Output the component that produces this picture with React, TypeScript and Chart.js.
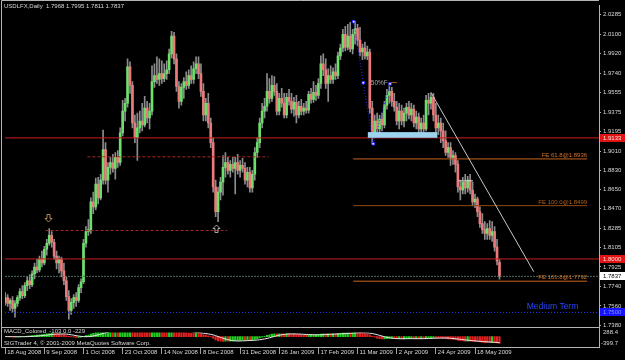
import { useEffect, useRef } from "react";
import { Chart, registerables } from "chart.js";
Chart.register(...registerables);

// ---- price data (daily OHLC, USDLFX) ----
const opens = [
  1.7593, 1.7638, 1.7583, 1.7611, 1.7537, 1.7583, 1.7638, 1.7694, 1.7657, 1.7750,
  1.7796, 1.7759, 1.7860, 1.7925, 1.7897, 1.7999, 1.7962, 1.8091, 1.8147, 1.8220,
  1.8156, 1.8027, 1.7962, 1.7999, 1.7888, 1.7796, 1.7648, 1.7519, 1.7593, 1.7638,
  1.7611, 1.7731, 1.7787, 1.8147, 1.8257, 1.8275, 1.8534, 1.8488, 1.8701, 1.8571,
  1.8737, 1.9023, 1.8737, 1.8857, 1.8903, 1.8848, 1.8950, 1.8903, 1.9180, 1.9383,
  1.9457, 1.9798, 1.9624, 1.9272, 1.9134, 1.9226, 1.9291, 1.9254, 1.9411, 1.9319,
  1.9383, 1.9660, 1.9716, 1.9679, 1.9734, 1.9688, 1.9734, 1.9771, 1.9919, 2.0085,
  1.9873, 1.9614, 1.9475, 1.9605, 1.9660, 1.9624, 1.9716, 1.9679, 1.9780, 1.9826,
  1.9734, 1.9568, 1.9347, 1.9457, 1.9272, 1.9088, 1.8673, 1.8442, 1.8626, 1.8719,
  1.8857, 1.8903, 1.8829, 1.8885, 1.8848, 1.8903, 1.8829, 1.8875, 1.8848, 1.8737,
  1.8811, 1.8664, 1.8793, 1.8996, 1.9088, 1.9272, 1.9383, 1.9429, 1.9568, 1.9503,
  1.9624, 1.9568, 1.9383, 1.9503, 1.9457, 1.9347, 1.9512, 1.9475, 1.9402, 1.9466,
  1.9347, 1.9429, 1.9383, 1.9411, 1.9392, 1.9540, 1.9494, 1.9559, 1.9531, 1.9642,
  1.9826, 1.9771, 1.9642, 1.9716, 1.9679, 1.9752, 1.9716, 1.9901, 1.9974, 2.0103,
  1.9983, 2.0085, 1.9965, 2.0103, 2.0158, 2.0048, 1.9937, 1.9974, 1.9901, 1.9937,
  1.9411, 1.9180, 1.9291, 1.9217, 1.9310, 1.9254, 1.9439, 1.9531, 1.9568, 1.9475,
  1.9420, 1.9291, 1.9383, 1.9291, 1.9365, 1.9420, 1.9347, 1.9402, 1.9272, 1.9328,
  1.9217, 1.9272, 1.9217, 1.9484, 1.9457, 1.9512, 1.9347, 1.9226, 1.9272, 1.9198,
  1.9106, 1.8996, 1.9042, 1.8950, 1.8968, 1.8885, 1.8673, 1.8645, 1.8719, 1.8664,
  1.8737, 1.8645, 1.8534, 1.8561, 1.8442, 1.8331, 1.8275, 1.8239, 1.8284, 1.8220,
  1.8257, 1.8110, 1.7968,
];
const highs = [
  1.7685, 1.7666, 1.7629, 1.7648, 1.7611, 1.7657, 1.7722, 1.7750, 1.7778, 1.7833,
  1.7851, 1.7888, 1.7962, 1.7999, 1.8027, 1.8073, 1.8119, 1.8183, 1.8284, 1.8257,
  1.8183, 1.8073, 1.8027, 1.8018, 1.7962, 1.7833, 1.7703, 1.7629, 1.7666, 1.7685,
  1.7759, 1.7814, 1.8183, 1.8303, 1.8368, 1.8571, 1.8626, 1.8756, 1.8765, 1.8793,
  1.9207, 1.9088, 1.8903, 1.8950, 1.8978, 1.8996, 1.9014, 1.9226, 1.9484, 1.9503,
  1.9873, 1.9845, 1.9660, 1.9347, 1.9365, 1.9383, 1.9457, 1.9521, 1.9475, 1.9457,
  1.9808, 1.9826, 1.9891, 1.9873, 1.9854, 1.9826, 1.9854, 1.9965, 2.0130, 2.0121,
  1.9919, 1.9660, 1.9642, 1.9697, 1.9752, 1.9771, 1.9808, 1.9845, 1.9891, 1.9891,
  1.9826, 1.9642, 1.9503, 1.9549, 1.9319, 1.9134, 1.8737, 1.8673, 1.8765, 1.8968,
  1.8996, 1.8950, 1.8921, 1.8950, 1.8950, 1.8978, 1.8921, 1.8941, 1.8903, 1.8857,
  1.8857, 1.8829, 1.9042, 1.9134, 1.9319, 1.9457, 1.9503, 1.9734, 1.9688, 1.9716,
  1.9706, 1.9642, 1.9549, 1.9596, 1.9549, 1.9549, 1.9587, 1.9549, 1.9512, 1.9531,
  1.9475, 1.9494, 1.9457, 1.9475, 1.9568, 1.9596, 1.9660, 1.9624, 1.9688, 1.9901,
  1.9919, 1.9873, 1.9780, 1.9808, 1.9789, 1.9826, 1.9937, 2.0011, 2.0149, 2.0177,
  2.0195, 2.0214, 2.0149, 2.0223, 2.0195, 2.0168, 2.0011, 2.0029, 1.9992, 1.9965,
  1.9475, 1.9347, 1.9365, 1.9347, 1.9365, 1.9475, 1.9587, 1.9639, 1.9605, 1.9549,
  1.9475, 1.9457, 1.9439, 1.9411, 1.9457, 1.9475, 1.9457, 1.9439, 1.9383, 1.9365,
  1.9319, 1.9347, 1.9531, 1.9549, 1.9558, 1.9549, 1.9457, 1.9347, 1.9319, 1.9272,
  1.9198, 1.9088, 1.9088, 1.9014, 1.8996, 1.8921, 1.8737, 1.8765, 1.8793, 1.8774,
  1.8793, 1.8719, 1.8608, 1.8580, 1.8488, 1.8424, 1.8349, 1.8331, 1.8358, 1.8349,
  1.8303, 1.8183, 1.7995,
];
const lows = [
  1.7565, 1.7556, 1.7519, 1.7501, 1.7454, 1.7556, 1.7611, 1.7629, 1.7638, 1.7703,
  1.7722, 1.7741, 1.7814, 1.7870, 1.7879, 1.7925, 1.7943, 1.8036, 1.8128, 1.8110,
  1.7999, 1.7906, 1.7870, 1.7833, 1.7759, 1.7611, 1.7436, 1.7482, 1.7537, 1.7556,
  1.7593, 1.7685, 1.7768, 1.8110, 1.8220, 1.8239, 1.8424, 1.8460, 1.8516, 1.8552,
  1.8701, 1.8701, 1.8626, 1.8793, 1.8811, 1.8746, 1.8857, 1.8875, 1.9152, 1.9291,
  1.9420, 1.9549, 1.9226, 1.9088, 1.8922, 1.9180, 1.9198, 1.9235, 1.9272, 1.9217,
  1.9347, 1.9605, 1.9642, 1.9624, 1.9642, 1.9660, 1.9679, 1.9734, 1.9882, 1.9826,
  1.9568, 1.9411, 1.9439, 1.9503, 1.9587, 1.9596, 1.9642, 1.9642, 1.9734, 1.9688,
  1.9521, 1.9291, 1.9291, 1.9226, 1.9042, 1.8626, 1.8396, 1.8349, 1.8552, 1.8598,
  1.8765, 1.8793, 1.8765, 1.8811, 1.8608, 1.8793, 1.8765, 1.8811, 1.8701, 1.8673,
  1.8626, 1.8626, 1.8737, 1.8950, 1.9042, 1.9226, 1.9319, 1.9383, 1.9457, 1.9475,
  1.9531, 1.9347, 1.9347, 1.9420, 1.9319, 1.9319, 1.9439, 1.9365, 1.9337, 1.9272,
  1.9319, 1.9347, 1.9347, 1.9365, 1.9365, 1.9457, 1.9466, 1.9484, 1.9503, 1.9596,
  1.9716, 1.9596, 1.9475, 1.9642, 1.9642, 1.9679, 1.9688, 1.9864, 1.9937, 1.9946,
  1.9956, 1.9937, 1.9919, 2.0011, 1.9993, 1.9901, 1.9864, 1.9873, 1.9864, 1.9365,
  1.9078, 1.9134, 1.9162, 1.9162, 1.9198, 1.9226, 1.9402, 1.9457, 1.9429, 1.9383,
  1.9254, 1.9217, 1.9254, 1.9235, 1.9291, 1.9310, 1.9291, 1.9235, 1.9217, 1.9180,
  1.9152, 1.9162, 1.9198, 1.9347, 1.9402, 1.9291, 1.9180, 1.9162, 1.9088, 1.9042,
  1.8968, 1.8950, 1.8875, 1.8885, 1.8811, 1.8626, 1.8552, 1.8608, 1.8608, 1.8626,
  1.8608, 1.8497, 1.8479, 1.8396, 1.8294, 1.8239, 1.8183, 1.8183, 1.8183, 1.8165,
  1.8073, 1.7943, 1.7811,
];
const closes = [
  1.7638, 1.7583, 1.7611, 1.7537, 1.7583, 1.7638, 1.7694, 1.7657, 1.7750, 1.7796,
  1.7759, 1.7860, 1.7925, 1.7897, 1.7999, 1.7962, 1.8091, 1.8147, 1.8220, 1.8156,
  1.8027, 1.7962, 1.7999, 1.7888, 1.7796, 1.7648, 1.7519, 1.7593, 1.7638, 1.7611,
  1.7731, 1.7787, 1.8147, 1.8257, 1.8275, 1.8534, 1.8488, 1.8701, 1.8571, 1.8737,
  1.9023, 1.8737, 1.8857, 1.8903, 1.8848, 1.8950, 1.8903, 1.9180, 1.9383, 1.9457,
  1.9798, 1.9624, 1.9272, 1.9134, 1.9226, 1.9291, 1.9254, 1.9411, 1.9319, 1.9383,
  1.9660, 1.9716, 1.9679, 1.9734, 1.9688, 1.9734, 1.9771, 1.9919, 2.0085, 1.9873,
  1.9614, 1.9475, 1.9605, 1.9660, 1.9624, 1.9716, 1.9679, 1.9780, 1.9826, 1.9734,
  1.9568, 1.9347, 1.9457, 1.9272, 1.9088, 1.8673, 1.8442, 1.8626, 1.8719, 1.8857,
  1.8903, 1.8829, 1.8885, 1.8848, 1.8903, 1.8829, 1.8875, 1.8848, 1.8737, 1.8811,
  1.8664, 1.8793, 1.8996, 1.9088, 1.9272, 1.9383, 1.9429, 1.9568, 1.9503, 1.9624,
  1.9568, 1.9383, 1.9503, 1.9457, 1.9347, 1.9512, 1.9475, 1.9402, 1.9466, 1.9347,
  1.9429, 1.9383, 1.9411, 1.9392, 1.9540, 1.9494, 1.9559, 1.9531, 1.9642, 1.9826,
  1.9771, 1.9642, 1.9716, 1.9679, 1.9752, 1.9716, 1.9901, 1.9974, 2.0103, 1.9983,
  2.0085, 1.9965, 2.0103, 2.0158, 2.0048, 1.9937, 1.9974, 1.9901, 1.9937, 1.9411,
  1.9180, 1.9291, 1.9217, 1.9310, 1.9254, 1.9439, 1.9531, 1.9568, 1.9475, 1.9420,
  1.9291, 1.9383, 1.9291, 1.9365, 1.9420, 1.9347, 1.9402, 1.9272, 1.9328, 1.9217,
  1.9272, 1.9217, 1.9484, 1.9457, 1.9512, 1.9347, 1.9226, 1.9272, 1.9198, 1.9106,
  1.8996, 1.9042, 1.8950, 1.8968, 1.8885, 1.8673, 1.8645, 1.8719, 1.8664, 1.8737,
  1.8645, 1.8534, 1.8561, 1.8442, 1.8331, 1.8275, 1.8239, 1.8284, 1.8220, 1.8257,
  1.8110, 1.7980, 1.7837,
];

// ---- axis labels ----
const dateTickIndex = [0, 16, 32, 48, 64, 80, 96, 112, 128, 144, 160, 176, 192];
const dateLabels = [
  "18 Aug 2008", "9 Sep 2008", "1 Oct 2008", "23 Oct 2008", "14 Nov 2008", "8 Dec 2008",
  "31 Dec 2008", "26 Jan 2009", "17 Feb 2009", "11 Mar 2009", "2 Apr 2009", "24 Apr 2009", "18 May 2009",
];
const priceTicks = [
  2.0285, 2.01, 1.992, 1.974, 1.9555, 1.9375, 1.9195, 1.901, 1.883, 1.865, 1.847,
  1.8285, 1.8105, 1.7925, 1.774, 1.756, 1.738,
];
const titleText = "USDLFX,Daily  1.7968 1.7995 1.7811 1.7837";
const macdTitle = "MACD_Colored  -103 0.0 -229";
const copyrightText = "SIGTrader 4, \u00a9 2001-2009 MetaQuotes Software Corp.";
const macdAxisLabels = ["288.4", "-399.7"];
const macdAxisValues = [288.4, -399.7];

// ---- drawn objects ----
const redLevels = [1.9133, 1.8];
const currentPrice = 1.7837;
const mediumTermLevel = 1.75;
const mediumTermText = "Medium Term";
const mediumTermIndex = 234.2;
const feLabels = ["FE 61.8@1.8936", "FE 100.0@1.8499", "FE 161.8@1.7792"];
const fePrices = [1.8936, 1.8499, 1.7792];
const feColors = ["#c8641e", "#8c4a14", "#c8641e"];
const feRange = [142.2, 237.8];
const fibIndex = [142.45, 146.34, 150.39, 157.28];
const fibPrices = [2.022, 1.9649, 1.9078, 1.9639];
const trendIndex = [174.2, 216.0];
const trendPrices = [1.9549, 1.7881];
const dashedPrices = [1.8956, 1.8266];
const dashedFrom = [33.6, 16.5];
const dashedTo = [107.6, 90.7];
const bandIndex = [148.2, 176.6];
const bandPrices = [1.9187, 1.9134];
const bracketIndex = [185.1, 191.2];
const bracketPrice = 1.8731;
const fiftyLineIndex = [157.3, 160.1];
const fiftyPrice = 1.9651;
const fiftyLabelIndex = 149.4;
const arrowDownAt = [17.4, 1.8386];
const arrowUpAt = [86.2, 1.8294];

const X_MIN = -0.081;
const X_MAX = 242.67;
const Y_MIN = 1.7176;
const Y_MAX = 2.0371;
const M_MIN = -441.4;
const M_MAX = 13988;

const FONT = "'Liberation Sans', Arial, sans-serif";

function ema(vals: number[], n: number) {
  const k = 2 / (n + 1);
  const out: number[] = [];
  let e = vals[0];
  vals.forEach((v, i) => {
    e = i === 0 ? v : v * k + e * (1 - k);
    out.push(e);
  });
  return out;
}

export default function App() {
  const ref = useRef<HTMLCanvasElement>(null);

  useEffect(() => {
    const canvas = ref.current!;
    const idx = closes.map((_, i) => i);

    const e12 = ema(closes, 12);
    const e26 = ema(closes, 26);
    const macd = closes.map((_, i) => (e12[i] - e26[i]) * 10000);
    const signal = macd.map((_, i) => {
      const s = Math.max(0, i - 8);
      const w = macd.slice(s, i + 1);
      return w.reduce((a, b) => a + b, 0) / w.length;
    });

    const seg = (x0: number, x1: number, p: number) => [
      { x: x0, y: p },
      { x: x1, y: p },
    ];
    const lineDs = (data: any[], color: string, order: number, extra: any = {}) => ({
      type: "line" as const,
      data,
      borderColor: color,
      borderWidth: 1,
      pointRadius: 0,
      fill: false,
      tension: 0,
      order,
      ...extra,
    });

    const datasets: any[] = [
      {
        type: "bar",
        data: idx.map((i) => ({ x: i, y: [Math.min(opens[i], closes[i]), Math.max(opens[i], closes[i])] })),
        backgroundColor: idx.map((i) => (closes[i] >= opens[i] ? "#6be06b" : "#ec7a7a")),
        barThickness: 2,
        minBarLength: 1,
        grouped: false,
        order: 8,
      },
      {
        type: "bar",
        data: idx.map((i) => ({ x: i, y: [lows[i], highs[i]] })),
        backgroundColor: "#8c8c8c",
        barThickness: 1,
        grouped: false,
        order: 9,
      },
      {
        type: "bar",
        yAxisID: "y2",
        data: idx.map((i) => ({ x: i, y: [0, macd[i]] })),
        backgroundColor: idx.map((i) => (i > 0 && macd[i] >= macd[i - 1] ? "#22d022" : "#e02222")),
        barThickness: 1.5,
        grouped: false,
        order: 7,
        clip: { left: 0, right: 0, top: -327, bottom: 0 },
      },
      lineDs(idx.map((i) => ({ x: i, y: signal[i] })), "#e8e8e8", 6, {
        yAxisID: "y2",
        clip: { left: 0, right: 0, top: -327, bottom: 0 },
      }),
      ...redLevels.map((p) => lineDs(seg(X_MIN, X_MAX, p), "#c81e1e", 3)),
      lineDs(seg(X_MIN, X_MAX, currentPrice), "#4e6e5e", 3, { borderDash: [2, 1] }),
      lineDs(seg(X_MIN, X_MAX, mediumTermLevel), "#2a3cff", 3, { borderDash: [1, 2] }),
      ...fePrices.map((p, k) => lineDs(seg(feRange[0], feRange[1], p), feColors[k], 3)),
      ...dashedPrices.map((p, k) =>
        lineDs(seg(dashedFrom[k], dashedTo[k], p), "#a8281e", 3, { borderDash: [3, 2] })
      ),
      lineDs(
        trendIndex.map((x, k) => ({ x, y: trendPrices[k] })),
        "#c8c8c8",
        2
      ),
      lineDs(seg(bracketIndex[0], bracketIndex[1], bracketPrice), "#d0d0d0", 2),
      lineDs(seg(fiftyLineIndex[0], fiftyLineIndex[1], fiftyPrice), "#b0501e", 2),
      lineDs(
        fibIndex.map((x, k) => ({ x, y: fibPrices[k] })),
        "#2a2aff",
        1,
        {
          borderDash: [1, 2],
          pointRadius: 1.8,
          pointStyle: "rect",
          pointBackgroundColor: "#ffffff",
          pointBorderColor: "#2a2aff",
          pointBorderWidth: 1,
        }
      ),
    ];

    const overlay = {
      id: "overlay",
      beforeDraw(chart: any) {
        const { ctx, width, height } = chart;
        ctx.save();
        ctx.fillStyle = "#000000";
        ctx.fillRect(0, 0, width, height);
        ctx.restore();
      },
      afterDatasetsDraw(chart: any) {
        const { ctx } = chart;
        const xs = chart.scales.x;
        const ys = chart.scales.y;
        ctx.save();
        // light blue band
        const bx0 = xs.getPixelForValue(bandIndex[0]);
        const bx1 = xs.getPixelForValue(bandIndex[1]);
        const by0 = ys.getPixelForValue(bandPrices[0]);
        const by1 = ys.getPixelForValue(bandPrices[1]);
        ctx.fillStyle = "#9cd4ee";
        ctx.fillRect(bx0, by0, bx1 - bx0, by1 - by0);

        // arrows
        const arrow = (i: number, p: number, dir: number, color: string) => {
          const x = Math.round(xs.getPixelForValue(i)) + 0.5;
          const y = Math.round(ys.getPixelForValue(p)) + 0.5;
          ctx.strokeStyle = color;
          ctx.lineWidth = 1;
          ctx.beginPath();
          ctx.moveTo(x - 1.5, y - 4 * dir);
          ctx.lineTo(x + 1.5, y - 4 * dir);
          ctx.lineTo(x + 1.5, y);
          ctx.lineTo(x + 3.5, y);
          ctx.lineTo(x, y + 3.5 * dir);
          ctx.lineTo(x - 3.5, y);
          ctx.lineTo(x - 1.5, y);
          ctx.closePath();
          ctx.stroke();
        };
        arrow(arrowDownAt[0], arrowDownAt[1], 1, "#b08858");
        arrow(arrowUpAt[0], arrowUpAt[1], -1, "#a8a8a8");

        // FE labels
        ctx.font = `6px ${FONT}`;
        ctx.textAlign = "right";
        ctx.textBaseline = "bottom";
        const fx = xs.getPixelForValue(feRange[1]);
        fePrices.forEach((p, k) => {
          ctx.fillStyle = k === 1 ? "#b0601e" : "#d8742a";
          ctx.fillText(feLabels[k], fx, ys.getPixelForValue(p) - 0.5);
        });

        // Medium Term
        ctx.font = `8.5px ${FONT}`;
        ctx.fillStyle = "#2a48ff";
        ctx.fillText(mediumTermText, xs.getPixelForValue(mediumTermIndex), ys.getPixelForValue(mediumTermLevel) - 1.5);

        // 50%F
        ctx.font = `6.5px ${FONT}`;
        ctx.textAlign = "left";
        ctx.textBaseline = "middle";
        ctx.fillStyle = "#a8a8a8";
        ctx.fillText("50%F", xs.getPixelForValue(fiftyLabelIndex), ys.getPixelForValue(fiftyPrice) + 0.5);
        ctx.restore();
      },
      afterDraw(chart: any) {
        const { ctx, chartArea } = chart;
        const ys = chart.scales.y;
        const y2 = chart.scales.y2;
        ctx.save();
        // frames
        ctx.strokeStyle = "#b4b4b4";
        ctx.lineWidth = 1;
        ctx.beginPath();
        ctx.moveTo(1.5, 0.5);
        ctx.lineTo(chartArea.right, 0.5);
        ctx.moveTo(1.5, 0.5);
        ctx.lineTo(1.5, 347.5);
        ctx.moveTo(1.5, 327.5);
        ctx.lineTo(chartArea.right, 327.5);
        ctx.moveTo(1.5, 347.5);
        ctx.lineTo(chartArea.right, 347.5);
        ctx.stroke();

        // texts
        ctx.font = `6px ${FONT}`;
        ctx.textAlign = "left";
        ctx.textBaseline = "middle";
        ctx.fillStyle = "#d8d8d8";
        ctx.fillText(titleText, 4, 6);
        ctx.fillText(macdTitle, 4, 331.5);
        ctx.fillText(copyrightText, 4, 343.5);

        // MACD axis labels
        ctx.fillStyle = "#d8d8d8";
        ctx.fillText(macdAxisLabels[0], 603, y2.getPixelForValue(macdAxisValues[0]) + 2.5);
        ctx.fillText(macdAxisLabels[1], 601, y2.getPixelForValue(macdAxisValues[1]) - 3);

        // price boxes on axis
        const box = (p: number, bg: string, fg: string) => {
          const y = ys.getPixelForValue(p);
          ctx.fillStyle = bg;
          ctx.fillRect(600, Math.round(y) - 4, 25, 8);
          ctx.fillStyle = fg;
          ctx.fillText(p.toFixed(4), 603, Math.round(y) + 0.5);
        };
        box(redLevels[0], "#e01414", "#ffe0e0");
        box(redLevels[1], "#e01414", "#ffe0e0");
        box(currentPrice, "#ffffff", "#000000");
        box(mediumTermLevel, "#1414ff", "#9090ff");
        ctx.restore();
      },
    };

    const chart = new Chart(canvas, {
      type: "bar",
      data: { datasets },
      plugins: [overlay],
      options: {
        animation: false,
        responsive: true,
        maintainAspectRatio: false,
        devicePixelRatio: 1,
        events: [],
        layout: { padding: { top: 1, left: 0, right: 0, bottom: 0 } },
        plugins: { legend: { display: false }, tooltip: { enabled: false } },
        scales: {
          x: {
            type: "linear",
            position: "bottom",
            min: X_MIN,
            max: X_MAX,
            offset: false,
            afterBuildTicks: (ax: any) => {
              ax.ticks = dateTickIndex.map((v) => ({ value: v }));
            },
            afterFit: (ax: any) => {
              ax.height = 13;
            },
            border: { display: false },
            grid: {
              display: true,
              drawOnChartArea: false,
              drawTicks: true,
              tickLength: 7,
              tickColor: "#a0a0a0",
              offset: false,
            },
            ticks: {
              autoSkip: false,
              maxRotation: 0,
              align: "start",
              labelOffset: 2,
              padding: -5,
              color: "#d8d8d8",
              font: { family: FONT, size: 6 },
              callback: (v: any) => {
                const k = dateTickIndex.indexOf(Math.round(Number(v)));
                return k >= 0 ? dateLabels[k] : "";
              },
            },
          },
          y: {
            type: "linear",
            position: "right",
            min: Y_MIN,
            max: Y_MAX,
            beginAtZero: false,
            afterBuildTicks: (ax: any) => {
              ax.ticks = priceTicks.map((v) => ({ value: v }));
            },
            afterFit: (ax: any) => {
              ax.width = 26;
            },
            border: { display: true, color: "#b4b4b4" },
            grid: {
              display: true,
              drawOnChartArea: false,
              drawTicks: true,
              tickLength: 2,
              tickColor: "#b4b4b4",
            },
            ticks: {
              autoSkip: false,
              padding: 2,
              color: "#d8d8d8",
              font: { family: FONT, size: 6 },
              callback: (v: any) => Number(v).toFixed(4),
            },
          },
          y2: {
            type: "linear",
            display: false,
            min: M_MIN,
            max: M_MAX,
            beginAtZero: false,
          },
        },
      } as any,
    });

    return () => chart.destroy();
  }, []);

  return (
    <div style={{ position: "fixed", left: 0, top: 0, width: 625, height: 360, background: "#000" }}>
      <canvas ref={ref} />
    </div>
  );
}
